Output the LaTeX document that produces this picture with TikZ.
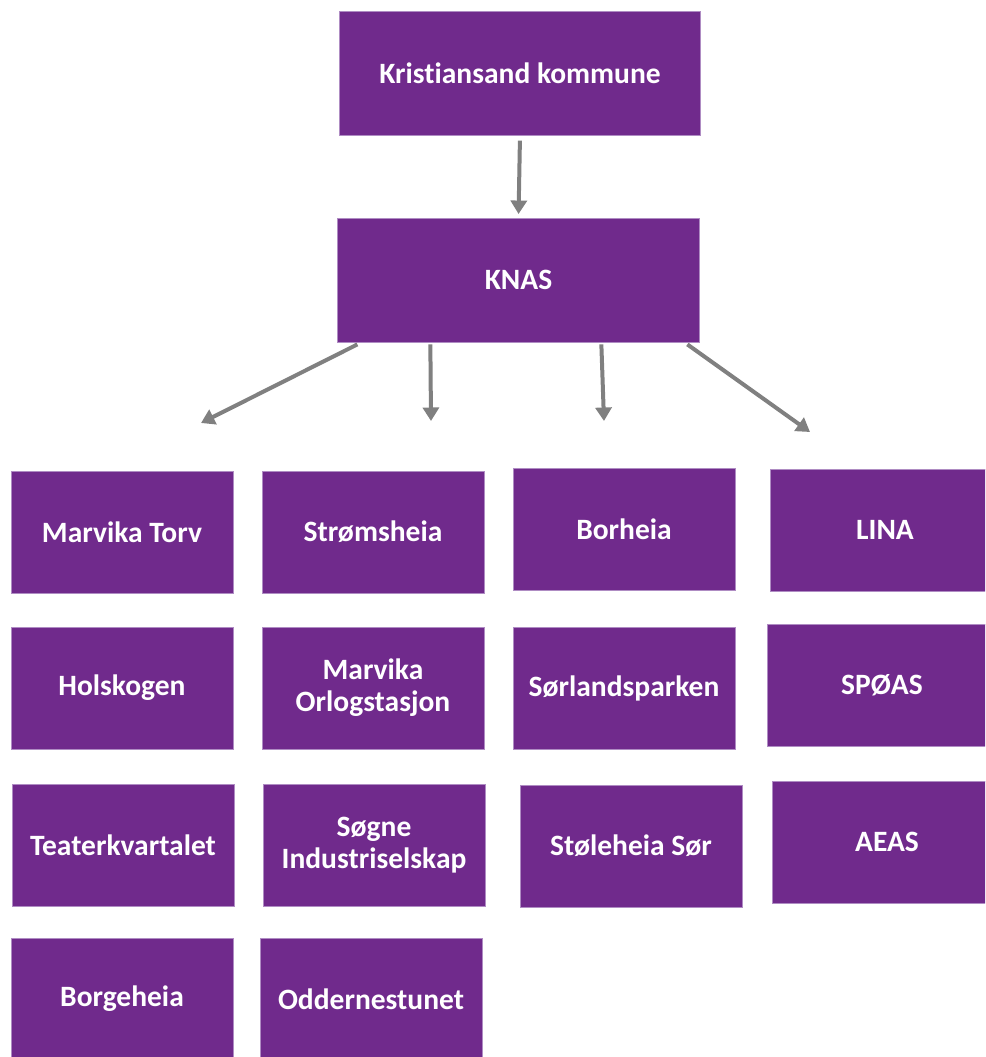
\documentclass[tikz,border=0pt]{standalone}
\usepackage{fontspec}
\setmainfont{Carlito}[Ligatures=NoCommon]
\usepackage{tikz}
\usetikzlibrary{arrows.meta,calc}
\definecolor{knpurple}{RGB}{112,42,140}
\definecolor{knedge}{RGB}{175,140,195}
\definecolor{argray}{RGB}{128,128,128}

\begin{document}
\begin{tikzpicture}[x=0.02cm,y=-0.02cm,>={Triangle[width=0.32cm,length=0.27cm]},
  bx/.style={draw=knedge,line width=0.5pt,fill=knpurple,text=white,
             minimum width=4.44cm,minimum height=2.44cm,align=center,
             font=\bfseries\fontsize{16.8}{18.3}\selectfont},
  tx/.style={bx,minimum width=7.23cm,minimum height=2.48cm},
  rx/.style={bx,minimum width=4.6cm},
  ar/.style={->,line width=0.08cm,color=argray}]
  \useasboundingbox (0,0) rectangle (985,1057);
  \clip (0,0) rectangle (985,1057);
  \node[tx](kk)   at (520,73)    {Kristiansand kommune};
  \node[tx](knas) at (518.5,280) {KNAS};

  \node[bx](mt) at (122,532)  {Marvika Torv};
  \node[bx](hs) at (122,688)  {Holskogen};
  \node[bx](tk) at (123,845)  {Teaterkvartalet};
  \node[bx](bg) at (122,999)  {Borgeheia};
  \node[bx](sh) at (373,532)  {Strømsheia};
  \node[bx](mo) at (373,688)  {Marvika\\Orlogstasjon};
  \node[bx](si) at (374,845)  {Søgne\\Industriselskap};
  \node[bx](od) at (371,999)  {Oddernestunet};
  \node[bx](bo) at (624,529)  {Borheia};
  \node[bx](sp) at (624,688)  {Sørlandsparken};
  \node[bx](ss) at (631,846)  {Støleheia Sør};
  \node[rx](li) at (885,530)  {LINA};
  \node[rx](so) at (882,685)  {SPØAS};
  \node[rx](ae) at (887,842)  {AEAS};

  \coordinate (t1) at (201,423);
  \coordinate (t2) at (431,421);
  \coordinate (t3) at (604,421);
  \coordinate (t4) at (810,432);

  \draw[ar,shorten <=3pt,shorten >=2pt](kk.south)--(knas.north);
  \foreach \d/\t in {20/t1,93/t2,264/t3,350/t4}{
    \draw[ar]($(knas.south west)+(\d,2)$)--(\t);}
\end{tikzpicture}
\end{document}
